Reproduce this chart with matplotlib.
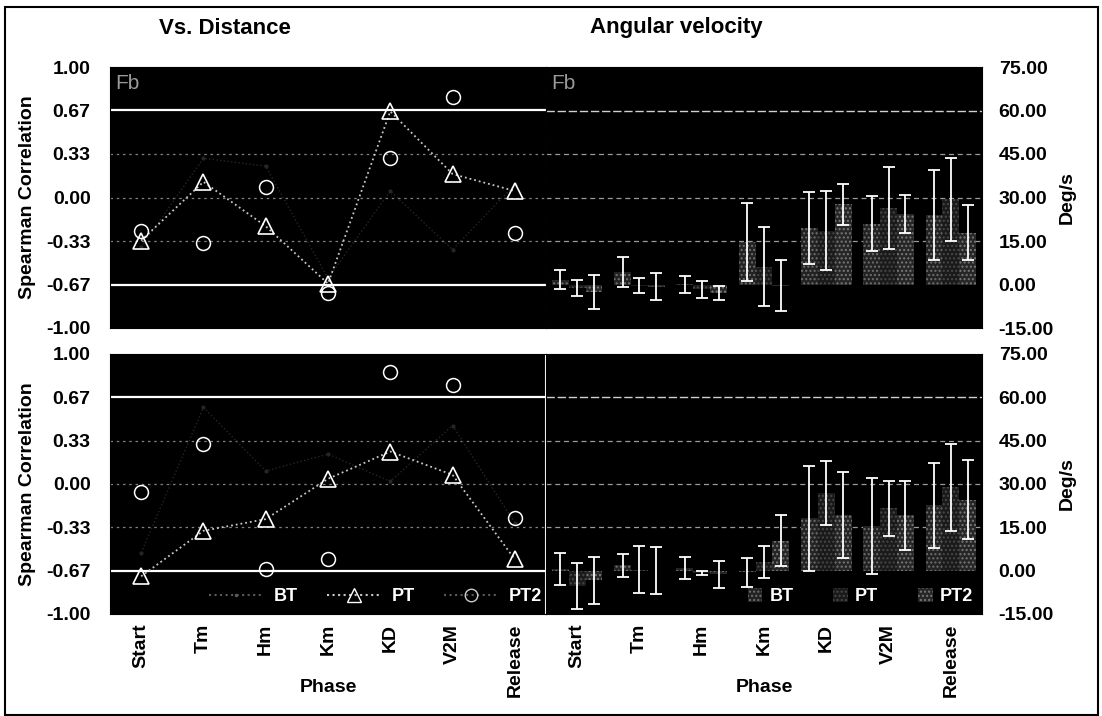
import numpy as np
import matplotlib.pyplot as plt
from matplotlib.patches import Rectangle, Patch
from matplotlib.lines import Line2D

plt.rcParams['font.family'] = ['Liberation Sans', 'DejaVu Sans']
plt.rcParams['hatch.linewidth'] = 1.0

phases = ['Start', 'Tm', 'Hm', 'Km', 'KD', 'V2M', 'Release']
groups = ['BT', 'PT', 'PT2']

# Spearman correlation vs. distance (top = Fb, bottom)
corr_top_bt = [-0.38, 0.30, 0.24, -0.62, 0.05, -0.40, 0.10]
corr_top_pt = [-0.33, 0.12, -0.22, -0.66, 0.66, 0.18, 0.05]
corr_top_pt2 = [-0.26, -0.35, 0.08, -0.73, 0.30, 0.77, -0.27]

corr_bot_bt = [-0.53, 0.59, 0.10, 0.23, 0.02, 0.45, -0.30]
corr_bot_pt = [-0.71, -0.36, -0.27, 0.04, 0.25, 0.07, -0.58]
corr_bot_pt2 = [-0.06, 0.31, -0.65, -0.58, 0.86, 0.76, -0.26]

# Angular velocity (deg/s): mean and SD per group
vel_top_bt = [1.6, 4.2, 0.1, 14.6, 19.5, 21.0, 23.9]
vel_top_pt = [-1.2, -0.4, -1.7, 6.2, 18.6, 26.4, 29.4]
vel_top_pt2 = [-2.6, -0.8, -3.0, -0.4, 27.6, 24.4, 17.9]
sd_top_bt = [3.3, 5.2, 3.0, 13.5, 12.3, 9.6, 15.6]
sd_top_pt = [2.9, 2.5, 2.9, 13.5, 13.7, 14.1, 14.3]
sd_top_pt2 = [5.8, 4.6, 2.4, 8.8, 7.2, 6.6, 9.6]

vel_bot_bt = [0.45, 1.8, 1.0, -0.6, 18.1, 15.5, 22.6]
vel_bot_pt = [-5.4, 0.4, -0.7, 3.0, 26.8, 21.6, 28.8]
vel_bot_pt2 = [-3.3, 0.0, -1.3, 10.4, 19.3, 19.2, 24.6]
sd_bot_bt = [5.5, 3.9, 3.9, 5.1, 18.3, 16.7, 14.6]
sd_bot_pt = [7.9, 8.1, 0.7, 5.5, 11.1, 9.5, 15.2]
sd_bot_pt2 = [8.1, 8.2, 4.6, 8.9, 14.8, 11.9, 13.8]

W, H = 1102, 716
fig = plt.figure(figsize=(W / 100, H / 100), dpi=100)
fig.patch.set_facecolor('white')


def px(x0, y0, x1, y1):
    return [x0 / W, 1 - y1 / H, (x1 - x0) / W, (y1 - y0) / H]


ax_tl = fig.add_axes(px(110, 67, 546, 328))
ax_tr = fig.add_axes(px(546, 67, 982, 328))
ax_bl = fig.add_axes(px(110, 354, 546, 614))
ax_br = fig.add_axes(px(546, 354, 982, 614))

x = np.arange(len(phases))
corr_ticks = [-1, -2 / 3, -1 / 3, 0, 1 / 3, 2 / 3, 1]
vel_ticks = [-15, 0, 15, 30, 45, 60, 75]


def style_axes(ax, right=False, bottom=False):
    ax.set_facecolor('black')
    ax.set_xlim(-0.5, len(phases) - 0.5)
    for s in ax.spines.values():
        s.set_color('black')
    ax.tick_params(length=0, labelsize=14)
    if right:
        ax.yaxis.tick_right()
        ax.tick_params(axis='y', pad=12)
    else:
        ax.tick_params(axis='y', pad=14)
    for lab in ax.get_yticklabels():
        lab.set_fontweight('bold')
    ax.set_xticks(x)
    if bottom:
        ax.set_xticklabels(phases, rotation=90, fontsize=14, fontweight='bold')
        ax.tick_params(axis='x', pad=7)
    else:
        ax.set_xticklabels([])


def corr_panel(ax, bt, pt, pt2, legend=False):
    ax.set_ylim(-1, 1)
    ax.set_yticks(corr_ticks)
    ax.set_yticklabels(['%.2f' % t for t in corr_ticks])
    for t in [-2 / 3, 2 / 3]:
        ax.axhline(t, color='white', lw=1.6, zorder=1)
    for t in [-1 / 3, 0, 1 / 3]:
        ax.axhline(t, color='#808080', lw=0.9, ls=(0, (2, 3)), zorder=1)
    ax.plot(x, bt, ls=':', color='#262626', marker='.', ms=4, lw=1, zorder=2)
    ax.plot(x, pt, ls=':', color='#c8c8c8', lw=1.3, marker='^', ms=11,
            mfc='none', mec='white', mew=1.2, zorder=3)
    ax.plot(x, pt2, ls='none', marker='o', ms=10, mfc='none', mec='white',
            mew=1.1, zorder=3)
    if legend:
        handles = [
            Line2D([], [], ls=':', color='#5a5a5a', marker='.', ms=3),
            Line2D([], [], ls=':', color='#c8c8c8', marker='^', ms=10, mfc='none', mec='white'),
            Line2D([], [], ls=':', color='#5a5a5a', marker='o', ms=9, mfc='none', mec='#cccccc'),
        ]
        ax.legend(handles, groups, loc='lower right', bbox_to_anchor=(1.012, 0),
                  ncol=3, frameon=False,
                  labelcolor='white', prop={'size': 13, 'weight': 'bold'},
                  handlelength=3, columnspacing=1.6, borderaxespad=0.1,
                  handletextpad=0.6)


bar_face = ['#222222', '#1a1a1a', '#262626']
bar_hatch = ['#6e6e6e', '#484848', '#787878']
w = 0.27


def vel_panel(ax, means, sds, legend=False):
    ax.set_ylim(-15, 75)
    ax.set_yticks(vel_ticks)
    ax.set_yticklabels(['%.2f' % t for t in vel_ticks])
    ax.axhline(60, color='#d0d0d0', lw=1.0, ls=(0, (6, 2)), zorder=1)
    for t in [15, 30, 45]:
        ax.axhline(t, color='#9a9a9a', lw=0.9, ls=(0, (4, 3)), zorder=1)
    for i, (m, s) in enumerate(zip(means, sds)):
        pos = x + (i - 1) * w
        ax.bar(pos, m, width=w, color=bar_face[i], edgecolor=bar_hatch[i],
               hatch='....', lw=0, zorder=2)
        ax.errorbar(pos, m, yerr=s, fmt='none', ecolor='white', elinewidth=1.3,
                    capsize=4, capthick=1.3, zorder=3)
    if legend:
        handles = [Patch(facecolor=bar_face[i], edgecolor=bar_hatch[i], hatch='....', lw=0)
                   for i in range(3)]
        ax.legend(handles, groups, loc='lower right', ncol=3, frameon=False,
                  labelcolor='white', prop={'size': 13, 'weight': 'bold'},
                  handlelength=0.8, handleheight=0.8, columnspacing=2.2,
                  borderaxespad=0.1, handletextpad=0.4)


style_axes(ax_tl)
style_axes(ax_bl, bottom=True)
style_axes(ax_tr, right=True)
style_axes(ax_br, right=True, bottom=True)

corr_panel(ax_tl, corr_top_bt, corr_top_pt, corr_top_pt2)
corr_panel(ax_bl, corr_bot_bt, corr_bot_pt, corr_bot_pt2, legend=True)
vel_panel(ax_tr, [vel_top_bt, vel_top_pt, vel_top_pt2], [sd_top_bt, sd_top_pt, sd_top_pt2])
vel_panel(ax_br, [vel_bot_bt, vel_bot_pt, vel_bot_pt2], [sd_bot_bt, sd_bot_pt, sd_bot_pt2], legend=True)

# divider between the two lower panels
ax_bl.spines['right'].set_color('white')
ax_bl.spines['right'].set_linewidth(1.5)
ax_tl.spines['right'].set_color('#555555')
ax_tl.spines['right'].set_linestyle((0, (2, 3)))

for ax in (ax_tl, ax_tr):
    ax.text(0.012, 0.975, 'Fb', transform=ax.transAxes, color='#9a9a9a',
            fontsize=15, va='top', ha='left')

fig.text(225 / W, 1 - 28 / H, 'Vs. Distance', ha='center', va='center',
         fontsize=16, fontweight='bold')
fig.text(676 / W, 1 - 28 / H, 'Angular velocity', ha='center', va='center',
         fontsize=16, fontweight='bold')

for yc in [(67 + 328) / 2, (354 + 614) / 2]:
    fig.text(28 / W, 1 - yc / H, 'Spearman Correlation', rotation=90,
             ha='center', va='center', fontsize=14, fontweight='bold')
    fig.text(1067 / W, 1 - yc / H, 'Deg/s', rotation=90,
             ha='center', va='center', fontsize=14, fontweight='bold')

for xc in [328, 764]:
    fig.text(xc / W, 1 - 688 / H, 'Phase', ha='center', va='center',
             fontsize=14, fontweight='bold')

fig.patches.append(Rectangle((5 / W, 1 / H), 1093 / W, 708 / H,
                             transform=fig.transFigure, fill=False,
                             ec='black', lw=1.5))

fig.savefig('out.png', dpi=100)
